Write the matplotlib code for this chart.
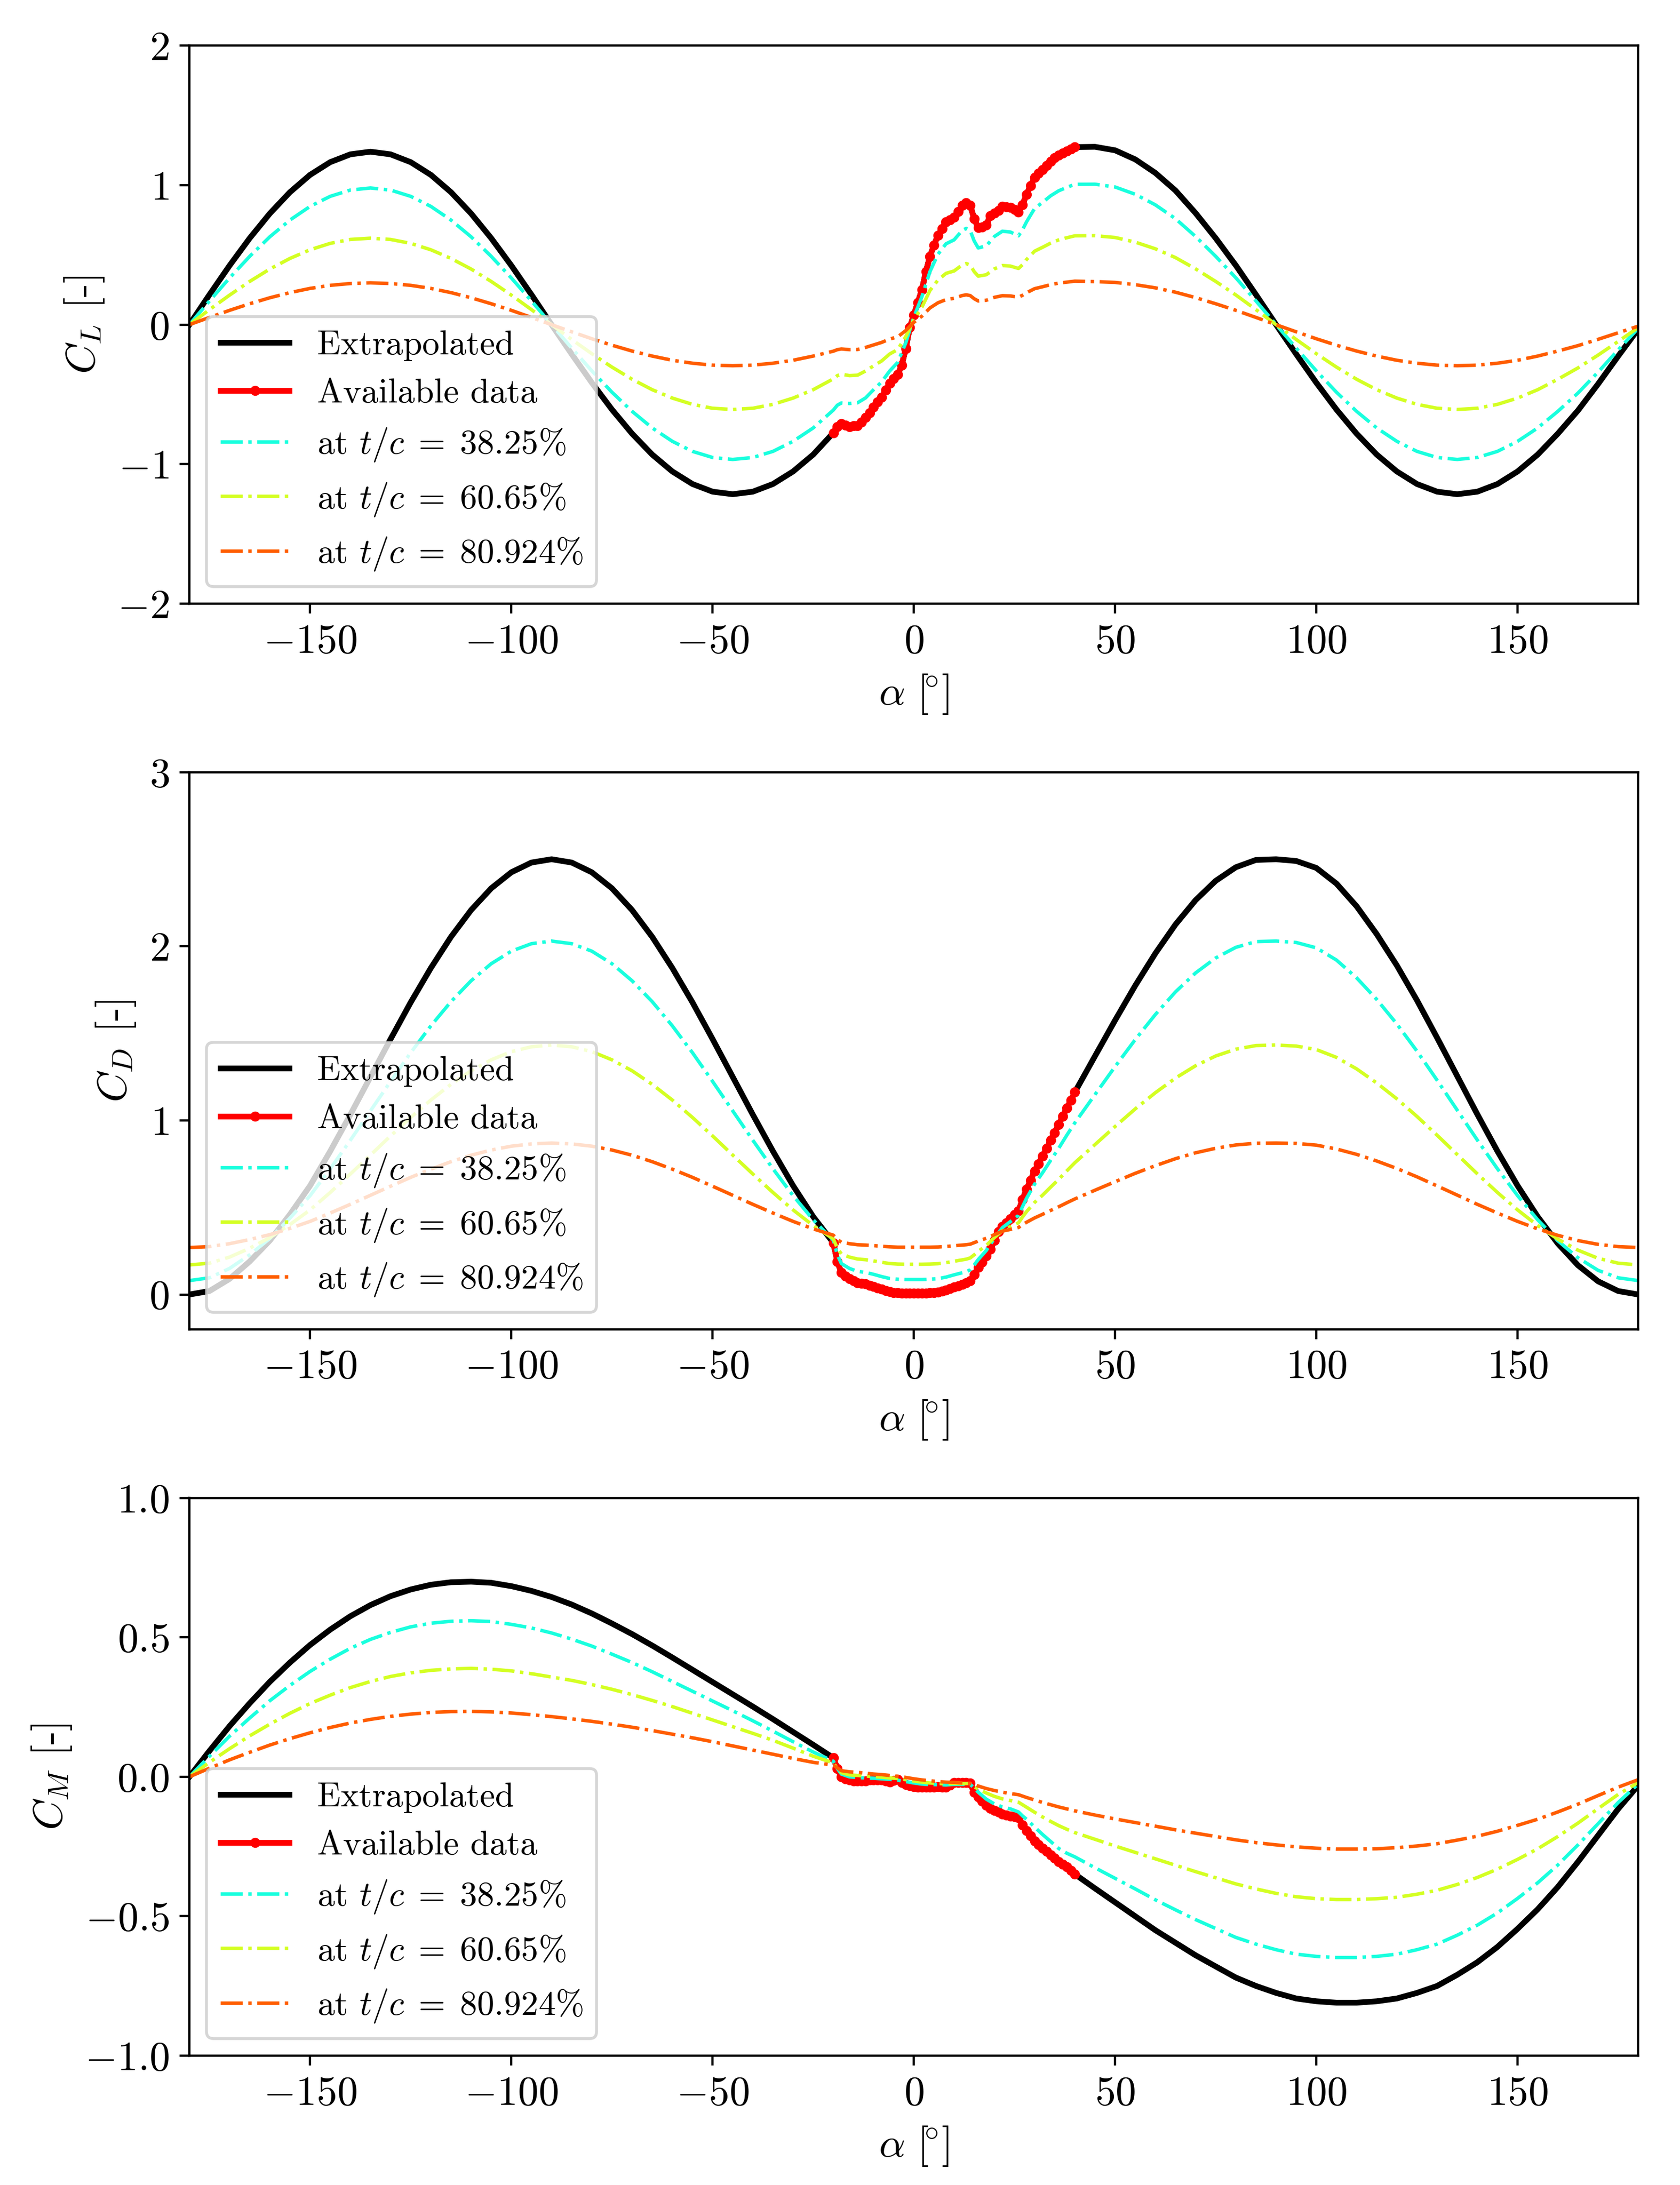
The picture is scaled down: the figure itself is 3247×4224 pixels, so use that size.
import numpy as np
import matplotlib
matplotlib.use("Agg")
import matplotlib.pyplot as plt

plt.rcParams.update({
    "font.family": "serif",
    "font.serif": ["cmr10"],
    "mathtext.fontset": "cm",
    "axes.formatter.use_mathtext": True,
    "font.size": 12,
    "xtick.labelsize": 14.4,
    "ytick.labelsize": 14.4,
    "axes.labelsize": 14.4,
    "legend.fontsize": 12,
})

# ---------------- angle grids ----------------
ALPHA_L = np.arange(-180, -24, 5)          # -180 ... -25
ALPHA_MID = np.arange(-20, 41, 1)          # available data range
ALPHA_R = np.arange(45, 181, 5)            # 45 ... 180
TC_MID = [-20, -19, -18, -16, -14, -12, -10, -8, -6, -4, -2, 0, 2, 4, 6, 8, 10, 12,
          13, 14, 15, 16, 18, 20, 22, 24, 26, 27, 28, 30, 32, 34, 36, 38, 40]

TC_LABELS = ["38.25", "60.65", "80.924"]
TC_VALUES = [38.25, 60.65, 80.924]

# ---------------- lift ----------------
CL_L = [0.0, 0.215, 0.424, 0.62, 0.797, 0.95, 1.074, 1.165, 1.221, 1.24, 1.221, 1.165, 1.074, 0.95,
        0.797, 0.62, 0.424, 0.215, 0.0, -0.211, -0.416, -0.608, -0.781, -0.931, -1.052, -1.142,
        -1.197, -1.215, -1.197, -1.142, -1.052, -0.931]
CL_AVAIL = [-0.775, -0.73, -0.71, -0.72, -0.73, -0.725, -0.725, -0.70, -0.665, -0.63, -0.59, -0.555,
            -0.52, -0.47, -0.42, -0.385, -0.357, -0.29, -0.17, -0.02,
            0.07, 0.16, 0.25, 0.38, 0.49, 0.57, 0.64, 0.69, 0.735, 0.75, 0.77, 0.81, 0.855, 0.875,
            0.855, 0.76, 0.695, 0.70, 0.715, 0.78, 0.80, 0.82, 0.848, 0.845, 0.84, 0.825, 0.806,
            0.86, 0.933, 0.995, 1.054, 1.085, 1.11, 1.14, 1.17, 1.195, 1.215, 1.23, 1.245, 1.26, 1.273]
CL_R = [1.275, 1.25, 1.185, 1.088, 0.962, 0.80, 0.62, 0.425, 0.215, 0.0, -0.211, -0.416, -0.608,
        -0.781, -0.931, -1.052, -1.142, -1.197, -1.215, -1.197, -1.142, -1.052, -0.931, -0.781,
        -0.615, -0.425, -0.225, -0.03]

CL_T38_L = [0.0, 0.17, 0.335, 0.49, 0.63, 0.75, 0.848, 0.92, 0.965, 0.98, 0.965, 0.92, 0.848, 0.75,
            0.63, 0.49, 0.335, 0.17, 0.0, -0.168, -0.331, -0.484, -0.621, -0.74, -0.836, -0.908,
            -0.952, -0.966, -0.952, -0.908, -0.836, -0.74]
CL_T38_M = [-0.612, -0.577, -0.561, -0.565, -0.56, -0.525, -0.466, -0.41, -0.332, -0.27, -0.13,
            0.055, 0.2, 0.38, 0.505, 0.58, 0.608, 0.675, 0.69, 0.675, 0.60, 0.55, 0.565, 0.632,
            0.67, 0.664, 0.637, 0.68, 0.737, 0.833, 0.877, 0.924, 0.96, 0.984, 1.006]
CL_T38_R = [1.007, 0.987, 0.935, 0.859, 0.76, 0.632, 0.49, 0.336, 0.17, 0.0, -0.168, -0.331,
            -0.484, -0.621, -0.74, -0.836, -0.908, -0.952, -0.966, -0.952, -0.908, -0.836, -0.74,
            -0.621, -0.49, -0.34, -0.18, -0.025]
CL_T60_L = [0.0, 0.108, 0.212, 0.31, 0.399, 0.475, 0.537, 0.583, 0.611, 0.62, 0.611, 0.583, 0.537,
            0.475, 0.399, 0.31, 0.212, 0.108, 0.0, -0.106, -0.208, -0.304, -0.391, -0.466, -0.526,
            -0.571, -0.599, -0.608, -0.599, -0.571, -0.526, -0.466]
CL_T60_M = [-0.388, -0.365, -0.355, -0.365, -0.362, -0.332, -0.295, -0.26, -0.21, -0.178, -0.085,
            0.035, 0.125, 0.245, 0.32, 0.368, 0.385, 0.428, 0.438, 0.428, 0.38, 0.348, 0.358, 0.40,
            0.424, 0.42, 0.403, 0.43, 0.467, 0.527, 0.555, 0.585, 0.608, 0.623, 0.637]
CL_T60_R = [0.638, 0.625, 0.592, 0.544, 0.481, 0.40, 0.31, 0.213, 0.108, 0.0, -0.106, -0.208, -0.304,
            -0.391, -0.466, -0.526, -0.571, -0.599, -0.608, -0.599, -0.571, -0.526, -0.466, -0.391,
            -0.31, -0.218, -0.12, -0.02]
CL_T80_L = [0.0, 0.052, 0.103, 0.15, 0.193, 0.23, 0.26, 0.282, 0.295, 0.30, 0.295, 0.282, 0.26,
            0.23, 0.193, 0.15, 0.103, 0.052, 0.0, -0.051, -0.101, -0.147, -0.189, -0.225, -0.255,
            -0.276, -0.29, -0.294, -0.29, -0.276, -0.255, -0.225]
CL_T80_M = [-0.19, -0.179, -0.174, -0.179, -0.178, -0.163, -0.145, -0.127, -0.103, -0.087, -0.042,
            0.017, 0.061, 0.12, 0.157, 0.18, 0.189, 0.209, 0.214, 0.209, 0.186, 0.17, 0.175, 0.196,
            0.208, 0.206, 0.197, 0.211, 0.229, 0.258, 0.272, 0.287, 0.298, 0.305, 0.312]
CL_T80_R = [0.309, 0.303, 0.287, 0.264, 0.233, 0.194, 0.15, 0.103, 0.052, 0.0, -0.051, -0.101,
            -0.147, -0.189, -0.225, -0.255, -0.276, -0.29, -0.294, -0.29, -0.276, -0.255, -0.225,
            -0.189, -0.15, -0.105, -0.058, -0.01]

# ---------------- drag ----------------
CD_L = [0.0, 0.02, 0.09, 0.19, 0.31, 0.46, 0.625, 0.823, 1.033, 1.25, 1.467, 1.678, 1.875, 2.054,
        2.208, 2.333, 2.425, 2.481, 2.5, 2.481, 2.425, 2.333, 2.208, 2.054, 1.875, 1.678, 1.467,
        1.25, 1.033, 0.823, 0.625, 0.447]
CD_AVAIL = [0.297, 0.19, 0.125, 0.105, 0.09, 0.078, 0.068, 0.064, 0.06, 0.052, 0.046, 0.038, 0.03,
            0.022, 0.016, 0.012, 0.01, 0.009, 0.008, 0.008,
            0.008, 0.008, 0.008, 0.009, 0.01, 0.012, 0.014, 0.02, 0.026, 0.034, 0.042, 0.05, 0.058,
            0.066, 0.08, 0.115, 0.155, 0.185, 0.222, 0.26, 0.31, 0.36, 0.39, 0.412, 0.435, 0.46,
            0.48, 0.545, 0.605, 0.655, 0.71, 0.75, 0.795, 0.84, 0.886, 0.93, 0.975, 1.025, 1.07,
            1.115, 1.162]
CD_R = [1.369, 1.575, 1.774, 1.959, 2.125, 2.265, 2.376, 2.454, 2.496, 2.5, 2.49, 2.45, 2.36, 2.23,
        2.07, 1.89, 1.69, 1.475, 1.255, 1.035, 0.823, 0.625, 0.447, 0.293, 0.168, 0.076, 0.02, 0.0]

CD_T38_L = [0.08, 0.096, 0.15, 0.228, 0.322, 0.439, 0.568, 0.722, 0.886, 1.055, 1.224, 1.389,
            1.543, 1.682, 1.802, 1.90, 1.972, 2.015, 2.03, 2.015, 1.972, 1.90, 1.802, 1.682, 1.543,
            1.389, 1.224, 1.055, 0.886, 0.722, 0.568, 0.429]
CD_T38_M = [0.312, 0.228, 0.178, 0.150, 0.133, 0.127, 0.116, 0.103, 0.092, 0.088, 0.086, 0.086,
            0.086, 0.088, 0.091, 0.10, 0.113, 0.125, 0.131, 0.142, 0.17, 0.201, 0.253, 0.322, 0.384,
            0.419, 0.454, 0.505, 0.552, 0.634, 0.70, 0.771, 0.84, 0.915, 0.986]
CD_T38_R = [1.148, 1.309, 1.464, 1.608, 1.738, 1.847, 1.933, 1.994, 2.027, 2.03, 2.022, 1.991,
            1.921, 1.819, 1.695, 1.554, 1.398, 1.231, 1.059, 0.887, 0.722, 0.568, 0.429, 0.309,
            0.211, 0.139, 0.096, 0.08]
CD_T60_L = [0.17, 0.18, 0.215, 0.266, 0.327, 0.402, 0.486, 0.586, 0.692, 0.801, 0.911, 1.017,
            1.117, 1.207, 1.285, 1.348, 1.395, 1.423, 1.433, 1.423, 1.395, 1.348, 1.285, 1.207,
            1.117, 1.017, 0.911, 0.801, 0.692, 0.586, 0.486, 0.396]
CD_T60_M = [0.32, 0.266, 0.233, 0.215, 0.204, 0.20, 0.193, 0.185, 0.178, 0.175, 0.174, 0.174,
            0.174, 0.175, 0.177, 0.183, 0.191, 0.199, 0.203, 0.21, 0.228, 0.248, 0.282, 0.327,
            0.367, 0.39, 0.412, 0.445, 0.476, 0.529, 0.571, 0.617, 0.662, 0.71, 0.757]
CD_T60_R = [0.861, 0.965, 1.066, 1.159, 1.243, 1.314, 1.37, 1.409, 1.43, 1.433, 1.427, 1.407,
            1.362, 1.296, 1.215, 1.124, 1.023, 0.915, 0.804, 0.693, 0.586, 0.486, 0.396, 0.318,
            0.255, 0.208, 0.18, 0.17]
CD_T80_L = [0.27, 0.275, 0.292, 0.316, 0.344, 0.38, 0.42, 0.468, 0.518, 0.57, 0.622, 0.673, 0.72,
            0.763, 0.80, 0.83, 0.852, 0.865, 0.87, 0.865, 0.852, 0.83, 0.80, 0.763, 0.72, 0.673,
            0.622, 0.57, 0.518, 0.468, 0.42, 0.377]
CD_T80_M = [0.341, 0.316, 0.30, 0.292, 0.286, 0.284, 0.281, 0.277, 0.274, 0.272, 0.272, 0.272,
            0.272, 0.272, 0.273, 0.276, 0.28, 0.284, 0.286, 0.289, 0.298, 0.307, 0.323, 0.344,
            0.364, 0.374, 0.385, 0.401, 0.415, 0.44, 0.461, 0.483, 0.504, 0.527, 0.549]
CD_T80_R = [0.599, 0.648, 0.696, 0.74, 0.78, 0.814, 0.84, 0.859, 0.869, 0.87, 0.868, 0.858, 0.836,
            0.805, 0.767, 0.724, 0.676, 0.624, 0.571, 0.518, 0.468, 0.42, 0.377, 0.34, 0.31, 0.288,
            0.275, 0.27]

# ---------------- moment ----------------
CM_L = [0.0, 0.093, 0.182, 0.264, 0.341, 0.41, 0.473, 0.528, 0.576, 0.616, 0.648, 0.672, 0.689,
        0.698, 0.70, 0.696, 0.684, 0.667, 0.645, 0.618, 0.586, 0.55, 0.512, 0.471, 0.428, 0.384,
        0.34, 0.296, 0.252, 0.207, 0.161, 0.115]
CM_AVAIL = [0.068, 0.03, 0.0, -0.008, -0.012, -0.015, -0.015, -0.015, -0.015, -0.012, -0.011,
            -0.011, -0.011, -0.014, -0.018, -0.013, -0.01, -0.02, -0.028, -0.032,
            -0.035, -0.037, -0.038, -0.038, -0.038, -0.037, -0.035, -0.037, -0.038, -0.03, -0.021,
            -0.021, -0.021, -0.021, -0.022, -0.056, -0.072, -0.088, -0.103, -0.113, -0.12, -0.127,
            -0.133, -0.138, -0.141, -0.143, -0.146, -0.172, -0.193, -0.212, -0.23, -0.243, -0.256,
            -0.268, -0.28, -0.292, -0.305, -0.313, -0.322, -0.335, -0.349]
CM_R = [-0.40, -0.45, -0.50, -0.55, -0.595, -0.64, -0.68, -0.72, -0.75, -0.775, -0.795, -0.805,
        -0.81, -0.81, -0.805, -0.795, -0.775, -0.75, -0.71, -0.665, -0.61, -0.545, -0.475, -0.395,
        -0.305, -0.21, -0.115, -0.03]

CM_T38_L = [0.0, 0.074, 0.146, 0.211, 0.273, 0.328, 0.378, 0.422, 0.461, 0.493, 0.518, 0.538,
            0.551, 0.558, 0.56, 0.557, 0.547, 0.534, 0.516, 0.494, 0.469, 0.44, 0.41, 0.377, 0.342,
            0.307, 0.272, 0.237, 0.201, 0.164, 0.126, 0.089]
CM_T38_M = [0.056, 0.03, 0.01, 0.0, -0.002, -0.004, -0.005, -0.007, -0.009, -0.012, -0.017,
            -0.022, -0.026, -0.028, -0.028, -0.029, -0.027, -0.027, -0.027, -0.027, -0.04, -0.055,
            -0.08, -0.097, -0.108, -0.115, -0.126, -0.14, -0.152, -0.18, -0.207, -0.232, -0.257,
            -0.274, -0.287]
CM_T38_R = [-0.326, -0.364, -0.402, -0.441, -0.477, -0.512, -0.544, -0.576, -0.60, -0.62, -0.636,
            -0.644, -0.648, -0.648, -0.644, -0.636, -0.62, -0.60, -0.568, -0.532, -0.488, -0.436,
            -0.38, -0.316, -0.244, -0.168, -0.092, -0.025]
CM_T60_L = [0.0, 0.052, 0.101, 0.147, 0.189, 0.228, 0.263, 0.293, 0.32, 0.342, 0.36, 0.373, 0.382,
            0.387, 0.389, 0.386, 0.38, 0.37, 0.358, 0.346, 0.331, 0.314, 0.295, 0.274, 0.252,
            0.228, 0.204, 0.18, 0.156, 0.131, 0.103, 0.074]
CM_T60_M = [0.05, 0.03, 0.015, 0.007, 0.005, 0.003, 0.001, -0.001, -0.004, -0.006, -0.01, -0.015,
            -0.019, -0.022, -0.024, -0.025, -0.024, -0.024, -0.024, -0.024, -0.035, -0.044,
            -0.058, -0.07, -0.079, -0.085, -0.091, -0.1, -0.109, -0.127, -0.144, -0.16, -0.175,
            -0.188, -0.2]
CM_T60_R = [-0.224, -0.248, -0.271, -0.294, -0.317, -0.34, -0.362, -0.384, -0.402, -0.418, -0.43,
            -0.437, -0.44, -0.44, -0.437, -0.432, -0.421, -0.407, -0.386, -0.361, -0.331, -0.296,
            -0.258, -0.214, -0.166, -0.114, -0.063, -0.02]
CM_T80_L = [0.0, 0.031, 0.061, 0.088, 0.114, 0.137, 0.158, 0.177, 0.193, 0.206, 0.217, 0.225,
            0.231, 0.234, 0.235, 0.233, 0.229, 0.223, 0.216, 0.208, 0.199, 0.189, 0.178, 0.166,
            0.153, 0.14, 0.126, 0.111, 0.096, 0.081, 0.066, 0.052]
CM_T80_M = [0.042, 0.032, 0.022, 0.018, 0.016, 0.013, 0.01, 0.008, 0.005, 0.002, -0.002, -0.007,
            -0.011, -0.014, -0.017, -0.019, -0.02, -0.022, -0.023, -0.024, -0.028, -0.033, -0.042,
            -0.049, -0.055, -0.06, -0.064, -0.069, -0.074, -0.083, -0.092, -0.1, -0.108, -0.115,
            -0.122]
CM_T80_R = [-0.137, -0.151, -0.164, -0.177, -0.19, -0.202, -0.214, -0.226, -0.236, -0.244, -0.251,
            -0.256, -0.259, -0.259, -0.258, -0.254, -0.248, -0.24, -0.227, -0.213, -0.195, -0.174,
            -0.152, -0.126, -0.098, -0.067, -0.037, -0.01]

PANELS = [
    dict(ext=(CL_L, CL_AVAIL, CL_R),
         tc=[(CL_T38_L, CL_T38_M, CL_T38_R), (CL_T60_L, CL_T60_M, CL_T60_R),
             (CL_T80_L, CL_T80_M, CL_T80_R)],
         ylabel=r"$C_L$ [-]", ylim=(-2, 2), yticks=[-2, -1, 0, 1, 2]),
    dict(ext=(CD_L, CD_AVAIL, CD_R),
         tc=[(CD_T38_L, CD_T38_M, CD_T38_R), (CD_T60_L, CD_T60_M, CD_T60_R),
             (CD_T80_L, CD_T80_M, CD_T80_R)],
         ylabel=r"$C_D$ [-]", ylim=(-0.2, 3), yticks=[0, 1, 2, 3]),
    dict(ext=(CM_L, CM_AVAIL, CM_R),
         tc=[(CM_T38_L, CM_T38_M, CM_T38_R), (CM_T60_L, CM_T60_M, CM_T60_R),
             (CM_T80_L, CM_T80_M, CM_T80_R)],
         ylabel=r"$C_M$ [-]", ylim=(-1, 1), yticks=[-1.0, -0.5, 0.0, 0.5, 1.0]),
]

fig = plt.figure(figsize=(3247 / 400, 4224 / 400), dpi=400)
rects = [[0.1127, 0.7237, 0.8625, 0.2554],
         [0.1127, 0.3916, 0.8625, 0.2550],
         [0.1127, 0.0592, 0.8625, 0.2552]]

alpha_ext = np.concatenate([ALPHA_L, ALPHA_MID, ALPHA_R])
alpha_tc = np.concatenate([ALPHA_L, TC_MID, ALPHA_R])
cmap = plt.get_cmap("jet")

for rect, p in zip(rects, PANELS):
    ax = fig.add_axes(rect)
    left, avail, right = p["ext"]
    ax.plot(alpha_ext, np.concatenate([left, avail, right]), "-", color="k", lw=2,
            label="Extrapolated")
    ax.plot(ALPHA_MID, avail, "-", color="r", lw=2, marker=".", ms=5,
            label="Available data")
    for lab, tcv, (l, m, r) in zip(TC_LABELS, TC_VALUES, p["tc"]):
        ax.plot(alpha_tc, np.concatenate([l, m, r]), "-.", color=cmap(tcv / 100.0), lw=1.2,
                label=r"at $t/c\;=\;%s\%%$" % lab)
    ax.set_xlim(-180, 180)
    ax.set_ylim(*p["ylim"])
    ax.set_yticks(p["yticks"])
    ax.set_xlabel(r"$\alpha\ [\!{}^{\circ}]$")
    ax.set_ylabel(p["ylabel"])
    ax.legend(loc="lower left")

fig.savefig("out.png", dpi=400)
